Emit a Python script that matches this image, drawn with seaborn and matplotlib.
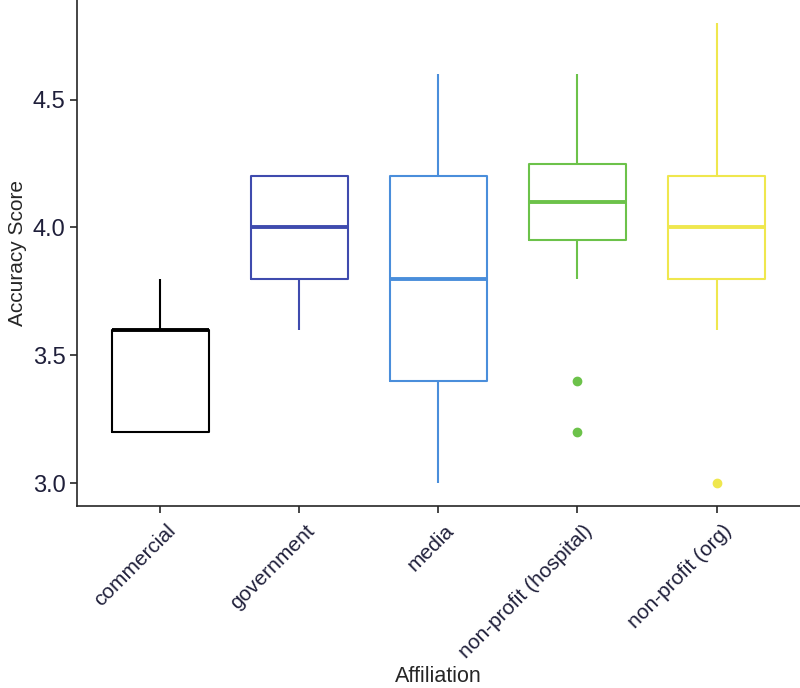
import pandas as pd
import numpy as np
import matplotlib
matplotlib.use("Agg")
import matplotlib.pyplot as plt
import matplotlib.transforms as mtransforms
import seaborn as sns

# scores per affiliation
commercial = [3.2, 3.2, 3.6, 3.6, 3.8]
government = [3.6, 3.8, 3.8, 4.0, 4.0, 4.0, 4.2, 4.2, 4.2]
media = [3.0, 3.2, 3.4, 3.6, 3.8, 4.0, 4.2, 4.4, 4.6]
hospital = [3.2, 3.4, 3.8, 3.95, 4.0, 4.0, 4.1, 4.2, 4.2, 4.25, 4.4, 4.6, 4.6]
org = [3.0, 3.6, 3.8, 4.0, 4.0, 4.2, 4.2, 4.6, 4.8]

groups = ["commercial", "government", "media", "non-profit (hospital)", "non-profit (org)"]
colors = ["#000000", "#3F4BAE", "#4A8EDB", "#6CC24A", "#EFE74E"]

df = pd.concat([
    pd.DataFrame({"Affiliation": g, "score": v})
    for g, v in zip(groups, [commercial, government, media, hospital, org])
])

sns.set_style("ticks")
plt.rcParams["font.family"] = ["Liberation Sans", "DejaVu Sans"]

fig = plt.figure(figsize=(8, 6.88), dpi=100)
ax = fig.add_axes([0.096, 0.2645, 0.904, 0.7355])

sns.boxplot(data=df, x="Affiliation", y="score", hue="Affiliation",
            order=groups, hue_order=groups, palette=colors, fill=False,
            width=0.7, whis=1.51, linewidth=1.5, legend=False, ax=ax,
            showcaps=False,
            medianprops=dict(linewidth=2.8),
            flierprops=dict(marker="o", markersize=6))

# colour each box's lines and fliers with its group's colour
for patch, c in zip(ax.patches, colors):
    patch.set_edgecolor(c)

lines_per_box = len(ax.lines) // len(groups)
for i, c in enumerate(colors):
    for ln in ax.lines[i * lines_per_box:(i + 1) * lines_per_box]:
        ln.set_color(c)
        ln.set_markerfacecolor(c)
        ln.set_markeredgecolor(c)

ax.set_ylim(2.91, 4.89)
ax.set_xlim(-0.6, 4.6)
ax.set_yticks([3.0, 3.5, 4.0, 4.5])
ax.set_yticklabels(["3.0", "3.5", "4.0", "4.5"])
ax.tick_params(axis="y", labelsize=17, labelcolor="#1f1f3a", length=5, width=1.2, pad=3)
ax.tick_params(axis="x", labelsize=15, labelcolor="#1f1f3a", length=5, width=1.2, pad=6)
offset = mtransforms.ScaledTranslation(4 / 72, 0, fig.dpi_scale_trans)
for lbl in ax.get_xticklabels():
    lbl.set_rotation(45)
    lbl.set_ha("right")
    lbl.set_rotation_mode("anchor")
    lbl.set_transform(lbl.get_transform() + offset)

ax.set_xlabel("Affiliation", fontsize=15.5)
ax.xaxis.set_label_coords(0.5, -0.316)
ax.set_ylabel("Accuracy Score", fontsize=15, labelpad=4)
for s in ["top", "right"]:
    ax.spines[s].set_visible(False)
ax.spines["left"].set_linewidth(1.2)
ax.spines["bottom"].set_linewidth(1.2)

fig.savefig("out.png", dpi=100)
